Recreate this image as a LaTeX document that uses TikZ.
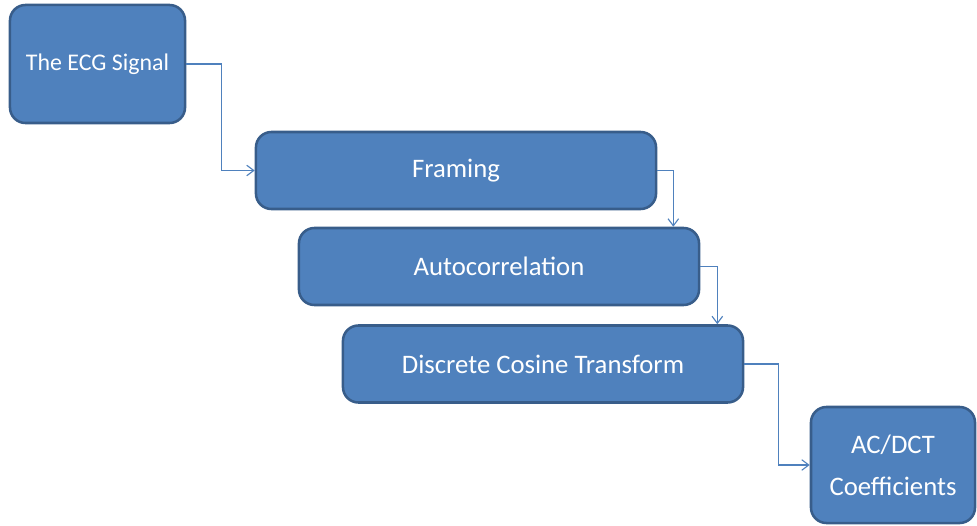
\documentclass[tikz,border=0pt]{standalone}
\usepackage{fontspec}
\setmainfont{Carlito}
\usepackage{tikz}
\usetikzlibrary{arrows.meta,positioning}
\definecolor{boxfill}{HTML}{4F81BD}
\definecolor{boxline}{HTML}{385D8A}

\begin{document}
\begin{tikzpicture}
[x=0.025cm,y=-0.025cm,
b/.style={rectangle,rounded corners=11pt,fill=boxfill,draw=boxline,line width=1.8pt,text=white,inner sep=0pt,align=center,font=\fontsize{19}{30}\selectfont},
stage/.style={b,minimum width=10cm,minimum height=1.925cm},
c/.style={draw=boxfill,line width=0.8pt,-{Straight Barb[length=5pt,width=7.5pt]}}]
\useasboundingbox (0,0) rectangle (977,525);
\node[b,minimum width=4.375cm,minimum height=2.95cm,font=\fontsize{17}{22}\selectfont] (ecg) at (97.5,64) {The ECG Signal};
\node[stage] (fr) at (456,170.5) {Framing};
\node[stage] (ac) at (499,266.5) {Autocorrelation};
\node[stage] (dct) at (543,364) {Discrete Cosine Transform};
\node[b,minimum width=4.1cm,minimum height=2.9cm] (co) at (893,465) {AC/DCT\\Coefficients};
\draw[c] (ecg.east) -- ++(35,0) |- (fr.west);
\draw[c] (fr.east) -- ++(16,0) coordinate (k1) -- (k1 |- ac.north);
\draw[c] (ac.east) -- ++(17,0) coordinate (k2) -- (k2 |- dct.north);
\draw[c] (dct.east) -- ++(34,0) |- (co.west);
\end{tikzpicture}
\end{document}
